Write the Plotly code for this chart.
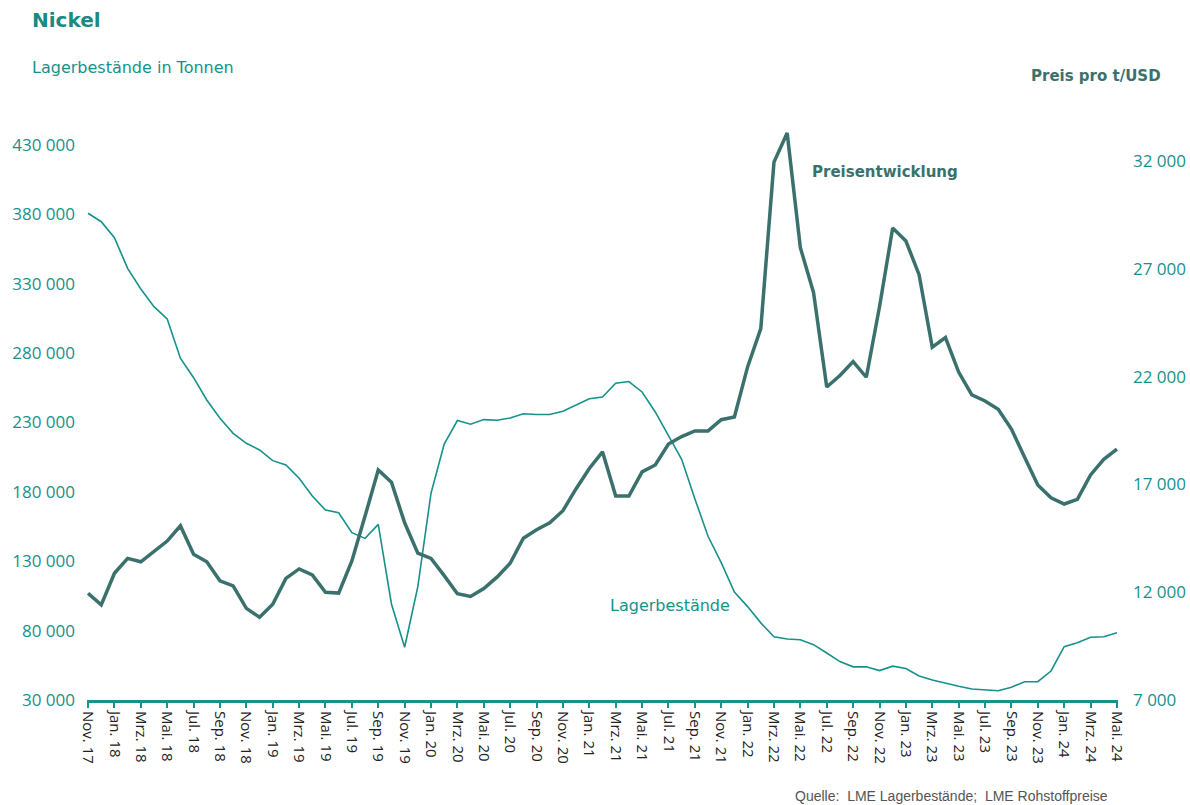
import plotly.graph_objects as go

# ---------------- data ----------------
month_names = ["Jan.", "Feb.", "Mrz.", "Apr.", "Mai.", "Jun.", "Jul.", "Aug.", "Sep.", "Okt.", "Nov.", "Dez."]
months = []
y, m = 2017, 11
while (y, m) <= (2024, 5):
    months.append(f"{month_names[m-1]} {str(y)[2:]}")
    m += 1
    if m > 12:
        m, y = 1, y + 1

lagerbestaende = [
    380800, 374700, 363200, 341100, 326200, 313500, 304600, 276300, 262300, 246200,
    233000, 222200, 215000, 210200, 202500, 199400, 189800, 177000, 166900, 165000,
    150600, 146500, 156600, 99200, 68000, 111700, 179000, 214400, 231400, 228800,
    232100, 231600, 233300, 236300, 235800, 235800, 238100, 242500, 247100, 248300,
    258300, 259500, 252000, 237600, 220100, 203500, 175100, 148000, 129000, 107800,
    97300, 85600, 75600, 74000, 73400, 69900, 63900, 57700, 53900, 53900,
    51200, 54400, 52700, 47300, 44400, 41900, 39900, 37900, 37200, 36700,
    39200, 43200, 43200, 50900, 68400, 71300, 75200, 75600, 78500,
]

preis = [
    11950, 11410, 12880, 13570, 13410, 13910, 14370, 15080, 13760, 13410,
    12530, 12290, 11250, 10840, 11440, 12640, 13080, 12800, 12000, 11960,
    13450, 15530, 17670, 17100, 15220, 13810, 13570, 12770, 11930, 11800,
    12170, 12700, 13340, 14500, 14900, 15220, 15780, 16800, 17740, 18510,
    16460, 16460, 17580, 17900, 18870, 19220, 19480, 19480, 20000, 20130,
    22450, 24230, 31950, 33300, 27980, 25900, 21520, 22050, 22700, 21970,
    25240, 28890, 28290, 26730, 23360, 23810, 22210, 21150, 20870, 20480,
    19570, 18260, 16970, 16380, 16090, 16310, 17440, 18160, 18640,
]

x_ticks = months[::2]
left_tickvals = [30000, 80000, 130000, 180000, 230000, 280000, 330000, 380000, 430000]
left_ticktext = ["30 000", "80 000", "130 000", "180 000", "230 000", "280 000", "330 000", "380 000", "430 000"]
right_tickvals = [7000, 12000, 17000, 22000, 27000, 32000]
right_ticktext = ["7 000", "12 000", "17 000", "22 000", "27 000", "32 000"]

# ---------------- style ----------------
TEAL = "#17918b"
DARK = "#3b716d"
TICKFONT = "Open Sans"
HEADFONT = "DejaVu Sans"

W, H = 1190, 805
L, R, T, B = 87, 72, 120, 105
plot_w = W - L - R
plot_h = H - T - B

def px(xp):
    return (xp - L) / plot_w

def py(yp):
    return (H - B - yp) / plot_h

left_range = [30000, 30000 + plot_h * 400000 / 555]
right_range = [7000, 7000 + plot_h * 25000 / 539]

fig = go.Figure()
fig.add_trace(go.Scatter(
    x=months, y=lagerbestaende, mode="lines", name="Lagerbestände",
    line=dict(color=TEAL, width=1.6), yaxis="y", hoverinfo="x+y",
))
fig.add_trace(go.Scatter(
    x=months, y=preis, mode="lines", name="Preisentwicklung",
    line=dict(color=DARK, width=3.5), yaxis="y2", hoverinfo="x+y",
))

fig.update_layout(
    width=W, height=H,
    margin=dict(l=L, r=R, t=T, b=B, pad=0),
    paper_bgcolor="white", plot_bgcolor="white",
    showlegend=False,
    xaxis=dict(
        type="category", categoryorder="array", categoryarray=months,
        range=[-0.08, len(months) - 1 + 0.08],
        tickmode="array", tickvals=x_ticks, ticktext=x_ticks,
        tickangle=90, ticks="outside", ticklen=5, tickwidth=2, tickcolor=TEAL,
        showline=True, linecolor=TEAL, linewidth=3,
        showgrid=False, zeroline=False, automargin=False,
        tickfont=dict(family=TICKFONT, size=15, color="#222222"),
    ),
    yaxis=dict(
        range=left_range, tickmode="array", tickvals=left_tickvals, ticktext=left_ticktext,
        showgrid=False, zeroline=False, showline=False, ticks="", automargin=False,
        tickfont=dict(family=TICKFONT, size=17, color=TEAL), ticklabelstandoff=11,
    ),
    yaxis2=dict(
        range=right_range, overlaying="y", side="right",
        tickmode="array", tickvals=right_tickvals, ticktext=right_ticktext,
        showgrid=False, zeroline=False, showline=False, ticks="", automargin=False,
        tickfont=dict(family=TICKFONT, size=17, color=TEAL), ticklabelstandoff=14,
    ),
)

annotations = [
    dict(text="<b>Nickel</b>", x=px(30), y=py(20), xanchor="left", yanchor="middle",
         font=dict(family=HEADFONT, size=20, color="#1a8a82")),
    dict(text="Lagerbestände in Tonnen", x=px(30), y=py(67), xanchor="left", yanchor="middle",
         font=dict(family=HEADFONT, size=16, color=TEAL)),
    dict(text="<b>Preis pro t/USD</b>", x=px(1163), y=py(76), xanchor="right", yanchor="middle",
         font=dict(family=HEADFONT, size=15, color=DARK)),
    dict(text="<b>Preisentwicklung</b>", x=px(810), y=py(172), xanchor="left", yanchor="middle",
         font=dict(family=HEADFONT, size=15, color=DARK)),
    dict(text="Lagerbestände", x=px(608), y=py(605), xanchor="left", yanchor="middle",
         font=dict(family=HEADFONT, size=16, color=TEAL)),
    dict(text="Quelle:  LME Lagerbestände;  LME Rohstoffpreise", x=px(1110), y=py(796),
         xanchor="right", yanchor="middle",
         font=dict(family="Liberation Sans", size=14, color="#555555")),
]
for a in annotations:
    a.update(xref="paper", yref="paper", showarrow=False)
fig.update_layout(annotations=annotations)

fig.write_html("out.html", config={"displayModeBar": False},
               post_script="document.body.style.margin='0px';document.body.style.padding='0px';")
